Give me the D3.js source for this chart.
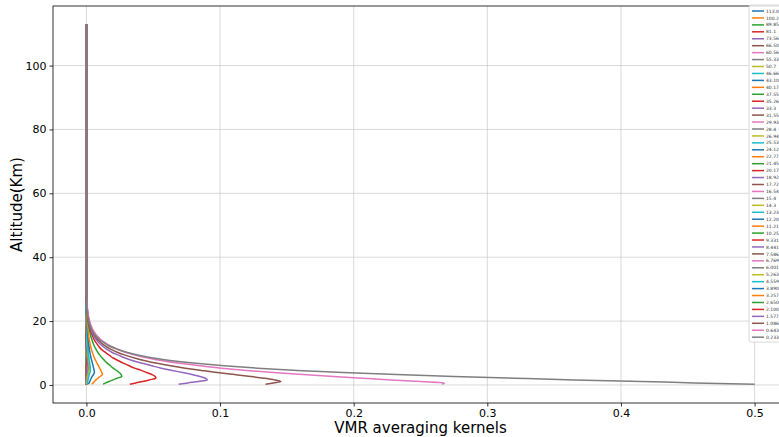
<!DOCTYPE html>
<html>
<head>
<meta charset="utf-8">
<script src="https://cdn.jsdelivr.net/npm/d3@7"></script>
<style>
  body { margin: 0; background: #fff; }
  #canvas svg { display: block; font-family: "DejaVu Sans", sans-serif; }
</style>
</head>
<body>
<div id="canvas"></div>
<script>
// retrieval levels (km), bottom to top
var levels = [0.233, 0.643, 1.086, 1.577, 2.100, 2.650, 3.257, 3.890, 4.559, 5.263,
  6.001, 6.769, 7.586, 8.441, 9.331, 10.25, 11.21, 12.20, 13.23, 14.3,
  15.4, 16.54, 17.72, 18.92, 20.17, 21.45, 22.77, 24.12, 25.53, 26.94,
  28.4, 29.93, 31.55, 33.3, 35.26, 37.55, 40.17, 43.10, 46.66, 50.7,
  55.33, 60.56, 66.50, 73.56, 81.1, 89.85, 100.2, 113.0];

// legend text, same order as levels
var levelLabels = ['0.2331', '0.6431', '1.0861', '1.5771', '2.1001', '2.6501', '3.2571', '3.8901', '4.5591', '5.2631',
  '6.0011', '6.7691', '7.5861', '8.4411', '9.3311', '10.25', '11.21', '12.20', '13.23', '14.3',
  '15.4', '16.54', '17.72', '18.92', '20.17', '21.45', '22.77', '24.12', '25.53', '26.94',
  '28.4', '29.93', '31.55', '33.3', '35.26', '37.55', '40.17', '43.10', '46.66', '50.7',
  '55.33', '60.56', '66.50', '73.56', '81.1', '89.85', '100.2', '113.0'];

var xTicks = [0, 0.1, 0.2, 0.3, 0.4, 0.5];
var yTicks = [0, 20, 40, 60, 80, 100];

// first level index each kernel row starts at (zero outside the row)
var kernelStart = [0, 0, 0, 0, 0, 0, 0, 0, 0, 2,
  3, 5, 7, 9, 11, 12, 13, 14, 15, 16,
  17, 18, 19, 20, 21, 22, 23, 24, 25, 26,
  27, 28, 0, 0, 0, 0, 0, 0, 0, 0,
  0, 0, 0, 0, 0, 0, 0, 0];

// averaging kernel rows, one per level
var kernelValues = [
  [0.500, 0.455, 0.415, 0.365, 0.320, 0.275, 0.232, 0.192, 0.158, 0.128, 0.103, 0.082, 0.064, 0.050, 0.039, 0.030, 0.023, 0.017, 0.013, 0.0095, 0.007, 0.005, 0.0035, 0.0025, 0.0017, 0.0011, 0.0007, 0.0004, 0.0002],
  [0.266, 0.268, 0.250, 0.228, 0.207, 0.185, 0.162, 0.140, 0.120, 0.101, 0.085, 0.070, 0.057, 0.046, 0.037, 0.029, 0.023, 0.018, 0.014, 0.0105, 0.008, 0.006, 0.0044, 0.0032, 0.0023, 0.0016, 0.0011, 0.0007, 0.0004, 0.0002],
  [0.134, 0.140, 0.1455, 0.141, 0.133, 0.123, 0.111, 0.098, 0.086, 0.074, 0.063, 0.053, 0.044, 0.036, 0.029, 0.023, 0.018, 0.014, 0.011, 0.0085, 0.0065, 0.005, 0.0038, 0.0028, 0.002, 0.0014, 0.001, 0.0006, 0.0003],
  [0.069, 0.076, 0.084, 0.0905, 0.089, 0.085, 0.079, 0.072, 0.064, 0.056, 0.049, 0.042, 0.035, 0.029, 0.024, 0.019, 0.015, 0.012, 0.0093, 0.0072, 0.0055, 0.0042, 0.0032, 0.0024, 0.0017, 0.0012, 0.0008, 0.0005, 0.0003],
  [0.0325, 0.037, 0.042, 0.047, 0.052, 0.0515, 0.049, 0.045, 0.041, 0.036, 0.032, 0.028, 0.024, 0.020, 0.017, 0.014, 0.011, 0.009, 0.0072, 0.0057, 0.0045, 0.0035, 0.0027, 0.002, 0.0015, 0.001, 0.0007, 0.0004, 0.0002],
  [0.0125, 0.0145, 0.017, 0.020, 0.023, 0.0265, 0.026, 0.0245, 0.0225, 0.020, 0.018, 0.0158, 0.0137, 0.0118, 0.010, 0.0085, 0.0071, 0.0059, 0.0049, 0.004, 0.0032, 0.0026, 0.002, 0.0015, 0.0011, 0.0008, 0.0005, 0.0003, 0.0001],
  [0.004, 0.005, 0.006, 0.0072, 0.0086, 0.0102, 0.012, 0.0115, 0.0108, 0.0099, 0.009, 0.008, 0.007, 0.006, 0.0052, 0.0044, 0.0037, 0.0031, 0.0026, 0.0021, 0.0017, 0.0014, 0.0011, 0.0008, 0.0006, 0.0004, 0.0003, 0.0002, 0.0001],
  [0.0015, 0.002, 0.0025, 0.003, 0.0036, 0.0043, 0.0052, 0.006, 0.0058, 0.0054, 0.005, 0.0045, 0.004, 0.0035, 0.003, 0.0026, 0.0022, 0.0019, 0.0016, 0.0013, 0.001, 0.0008, 0.0006, 0.0005, 0.0003, 0.0002],
  [0.0006, 0.0008, 0.001, 0.0012, 0.0015, 0.0018, 0.0022, 0.0026, 0.003, 0.0029, 0.0027, 0.0025, 0.0022, 0.0019, 0.0016, 0.0013, 0.0011, 0.0009, 0.0007, 0.0005, 0.0004, 0.0003, 0.0002, 0.0001],
  [0.0004, 0.0006, 0.0008, 0.001, 0.0013, 0.0016, 0.002, 0.0022, 0.0021, 0.002, 0.0018, 0.0016, 0.0014, 0.0012, 0.001, 0.0008, 0.0006, 0.0005, 0.0004, 0.0003, 0.0002, 0.0001],
  [0.0003, 0.0005, 0.0007, 0.0009, 0.0011, 0.0014, 0.0017, 0.0018, 0.0017, 0.0016, 0.0014, 0.0012, 0.001, 0.0008, 0.0007, 0.0005, 0.0004, 0.0003, 0.0002, 0.0001],
  [0.0004, 0.0006, 0.0008, 0.001, 0.0012, 0.0014, 0.0015, 0.0014, 0.0013, 0.0011, 0.001, 0.0008, 0.0007, 0.0005, 0.0004, 0.0003, 0.0002, 0.0001],
  [0.0004, 0.0006, 0.0008, 0.001, 0.0012, 0.0013, 0.0012, 0.0011, 0.001, 0.0009, 0.0007, 0.0006, 0.0005, 0.0004, 0.0003, 0.0002, 0.0001],
  [0.0004, 0.0006, 0.0008, 0.001, 0.0011, 0.0011, 0.001, 0.0009, 0.0008, 0.0007, 0.0006, 0.0005, 0.0004, 0.0003, 0.0002, 0.0001],
  [0.0003, 0.0006, 0.0009, 0.0011, 0.001, 0.0008, 0.0006, 0.0004, 0.0002, 0.0001],
  [0.0003, 0.0006, 0.0009, 0.0011, 0.001, 0.0008, 0.0006, 0.0004, 0.0002, 0.0001],
  [0.0003, 0.0005, 0.0008, 0.001, 0.0009, 0.0007, 0.0005, 0.0003, 0.0002],
  [0.0003, 0.0005, 0.0008, 0.001, 0.0009, 0.0007, 0.0005, 0.0003, 0.0002],
  [0.0003, 0.0005, 0.0007, 0.0009, 0.0008, 0.0006, 0.0004, 0.0003, 0.0001],
  [0.0002, 0.0005, 0.0007, 0.0009, 0.0008, 0.0006, 0.0004, 0.0002, 0.0001],
  [0.0002, 0.0004, 0.0007, 0.0008, 0.0007, 0.0005, 0.0004, 0.0002, 0.0001],
  [0.0002, 0.0004, 0.0006, 0.0008, 0.0007, 0.0005, 0.0003, 0.0002, 0.0001],
  [0.0002, 0.0004, 0.0006, 0.0007, 0.0006, 0.0005, 0.0003, 0.0002, 0.0001],
  [0.0002, 0.0004, 0.0005, 0.0007, 0.0006, 0.0004, 0.0003, 0.0002, 0.0001],
  [0.0002, 0.0003, 0.0005, 0.0006, 0.0005, 0.0004, 0.0003, 0.0002],
  [0.0002, 0.0003, 0.0005, 0.0006, 0.0005, 0.0004, 0.0002, 0.0001],
  [0.0001, 0.0003, 0.0004, 0.0005, 0.0005, 0.0003, 0.0002, 0.0001],
  [0.0001, 0.0003, 0.0004, 0.0005, 0.0004, 0.0003, 0.0002, 0.0001],
  [0.0001, 0.0002, 0.0004, 0.0005, 0.0004, 0.0003, 0.0002, 0.0001],
  [0.0001, 0.0002, 0.0003, 0.0004, 0.0003, 0.0002, 0.0001],
  [0.0001, 0.0002, 0.0003, 0.0004, 0.0003, 0.0002, 0.0001],
  [0.0001, 0.0002, 0.0003, 0.0003, 0.0003, 0.0002, 0.0001],
  [], [], [], [], [], [], [], [], [], [], [], [], [], [], [], []
];

var tab10 = ['#1f77b4', '#ff7f0e', '#2ca02c', '#d62728', '#9467bd',
  '#8c564b', '#e377c2', '#7f7f7f', '#bcbd22', '#17becf'];

Canvas = function () {
  var self = this;
  var svg;
  var width = 779, height = 437;
  var left = 53, top = 6, bottom = 403, right = 788;

  var createSvg = function() {
    svg = d3.select('#canvas').append('svg')
      .attr('width', width)
      .attr('height', height);
  };
  createSvg();

  var x = d3.scaleLinear().domain([-0.025, 0.525]).range([left, right]);
  var y = d3.scaleLinear().domain([-5.65, 118.65]).range([bottom, top]);

  // value of kernel k at level i
  var kernelAt = function(k, i) {
    var j = i - kernelStart[k];
    var row = kernelValues[k];
    if (j < 0 || j >= row.length) return 0;
    return row[j];
  };

  self.drawGrid = function() {
    var g = svg.append('g');
    g.selectAll('line.gx').data(xTicks).enter().append('line')
      .attr('x1', function (d) { return x(d); })
      .attr('x2', function (d) { return x(d); })
      .attr('y1', top)
      .attr('y2', bottom)
      .attr('stroke', '#b0b0b0')
      .attr('stroke-opacity', 0.6)
      .attr('stroke-width', 0.8);
    g.selectAll('line.gy').data(yTicks).enter().append('line')
      .attr('x1', left)
      .attr('x2', right)
      .attr('y1', function (d) { return y(d); })
      .attr('y2', function (d) { return y(d); })
      .attr('stroke', '#b0b0b0')
      .attr('stroke-opacity', 0.6)
      .attr('stroke-width', 0.8);
  };

  self.drawKernels = function() {
    var line = d3.line()
      .x(function (d) { return x(d.v); })
      .y(function (d) { return y(d.alt); })
      .curve(d3.curveMonotoneY);

    // plotted top level first, so the ground kernel ends up on top
    var order = d3.range(levels.length).reverse();
    var rows = order.map(function (k, p) {
      return {
        k: k,
        c: tab10[p % 10],
        pts: levels.map(function (alt, i) { return { alt: alt, v: kernelAt(k, i) }; })
      };
    });

    svg.append('g').selectAll('path').data(rows).enter().append('path')
      .attr('d', function (d) { return line(d.pts); })
      .attr('fill', 'none')
      .attr('stroke', function (d) { return d.c; })
      .attr('stroke-width', 1.5)
      .attr('stroke-linejoin', 'round');

    return rows;
  };

  self.drawAxes = function() {
    var xa = svg.append('g')
      .attr('transform', 'translate(0,' + bottom + ')')
      .call(d3.axisBottom(x).tickValues(xTicks).tickFormat(d3.format('.1f')).tickSizeOuter(0).tickSize(3.5).tickPadding(3));
    var ya = svg.append('g')
      .attr('transform', 'translate(' + left + ',0)')
      .call(d3.axisLeft(y).tickValues(yTicks).tickSizeOuter(0).tickSize(3.5).tickPadding(3));
    [xa, ya].forEach(function (a) {
      a.select('.domain').remove();
      a.selectAll('text').attr('font-size', 11).attr('fill', '#000')
        .attr('font-family', '"DejaVu Sans", sans-serif');
      a.selectAll('line').attr('stroke', '#000').attr('stroke-width', 0.8);
    });

    // spines
    svg.append('rect')
      .attr('x', left)
      .attr('y', top)
      .attr('width', right - left)
      .attr('height', bottom - top)
      .attr('fill', 'none')
      .attr('stroke', '#000')
      .attr('stroke-width', 0.8);

    svg.append('text')
      .attr('x', (left + right) / 2)
      .attr('y', 433)
      .attr('text-anchor', 'middle')
      .attr('font-size', 15)
      .text('VMR averaging kernels');

    svg.append('text')
      .attr('transform', 'translate(22,' + ((top + bottom) / 2) + ') rotate(-90)')
      .attr('text-anchor', 'middle')
      .attr('font-size', 15)
      .text('Altitude(Km)');
  };

  self.drawLegend = function(rows) {
    var step = 6.94;
    var g = svg.append('g');
    g.append('rect')
      .attr('x', 749)
      .attr('y', 5)
      .attr('width', 50)
      .attr('height', step * rows.length + 4)
      .attr('rx', 2)
      .attr('fill', '#fff')
      .attr('fill-opacity', 0.8)
      .attr('stroke', '#d0d0d0')
      .attr('stroke-width', 0.8);

    var item = g.selectAll('g.item').data(rows).enter().append('g')
      .attr('transform', function (d, i) { return 'translate(752,' + (11 + i * step) + ')'; });
    item.append('line')
      .attr('x1', 0).attr('x2', 12)
      .attr('y1', 0).attr('y2', 0)
      .attr('stroke', function (d) { return d.c; })
      .attr('stroke-width', 1.5);
    item.append('text')
      .attr('x', 14)
      .attr('y', 1.6)
      .attr('font-size', 4.5)
      .attr('fill', '#333')
      .text(function (d) { return levelLabels[d.k]; });
  };
};

var canvas = new Canvas();
canvas.drawGrid();
var rows = canvas.drawKernels();
canvas.drawAxes();
canvas.drawLegend(rows);
</script>
</body>
</html>
